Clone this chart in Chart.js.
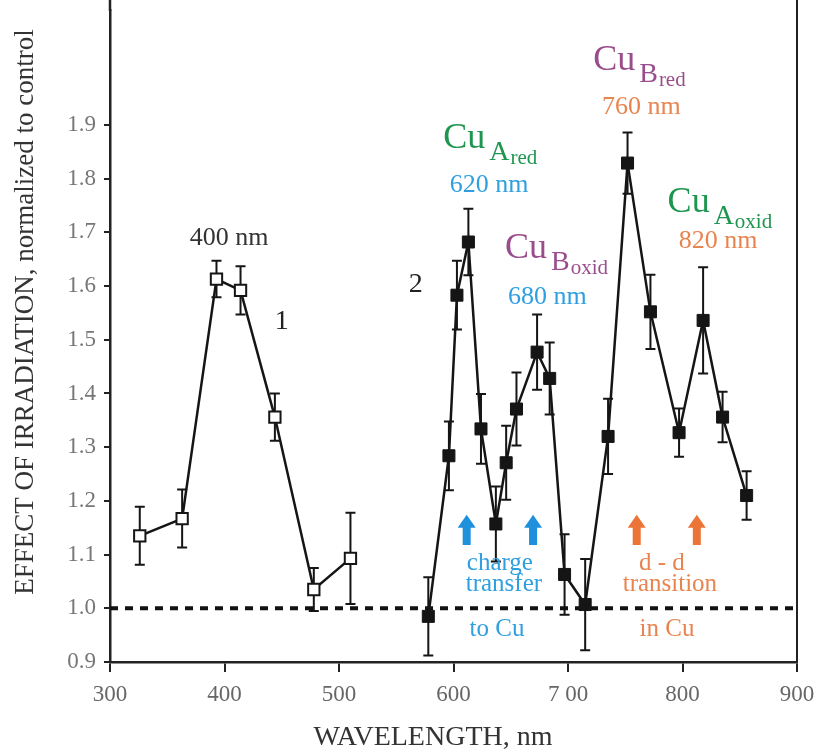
<!DOCTYPE html>
<html lang="en">
<head>
    <meta charset="UTF-8">
    <title>Effect of irradiation vs wavelength</title>
    <script src="https://cdn.jsdelivr.net/npm/chart.js"></script>
    <style>
        body {
            margin: 0;
            background: #fff;
        }
        #wrap {
            width: 817px;
            height: 752px;
        }
    </style>
</head>
<body>
    <div id="wrap">
        <canvas id="irrChart" width="817" height="752"></canvas>
    </div>

    <script>
        // curve 1 (open squares)
        const wavelength1 = [326, 363, 393, 414, 444, 478, 510];
        const effect1 = [1.135, 1.167, 1.613, 1.592, 1.356, 1.035, 1.093];
        const error1 = [0.054, 0.054, 0.034, 0.045, 0.044, 0.040, 0.085];

        // curve 2 (filled squares)
        const wavelength2 = [578, 596, 603, 613, 624, 637, 646, 655, 673, 684, 697, 715, 735, 752, 772, 797, 818, 835, 856];
        const effect2 = [0.985, 1.284, 1.583, 1.682, 1.334, 1.157, 1.271, 1.371, 1.477, 1.428, 1.063, 1.007, 1.320, 1.829, 1.552, 1.327, 1.536, 1.356, 1.210];
        const error2 = [0.073, 0.064, 0.064, 0.062, 0.065, 0.070, 0.069, 0.068, 0.070, 0.067, 0.075, 0.085, 0.070, 0.057, 0.069, 0.045, 0.099, 0.047, 0.045];

        // control level
        const controlLevel = [1.0, 1.0];
        const controlRange = [300, 900];

        const xTicks = [300, 400, 500, 600, 700, 800, 900];
        const yTicks = [0.9, 1.0, 1.1, 1.2, 1.3, 1.4, 1.5, 1.6, 1.7, 1.8, 1.9];

        const FONT = "'Liberation Serif', 'Times New Roman', serif";
        const BLUE = '#2f9fe0';
        const ORANGE = '#e8844f';
        const GREEN = '#1e9650';
        const PURPLE = '#9a4d8c';

        const toPoints = (xs, ys) => xs.map((x, i) => ({ x: x, y: ys[i] }));

        // error bars, drawn behind the markers
        const errorBars = {
            id: 'errorBars',
            beforeDatasetsDraw(chart) {
                const { ctx, scales: { x, y } } = chart;
                const sets = [[wavelength1, effect1, error1], [wavelength2, effect2, error2]];
                ctx.save();
                ctx.strokeStyle = '#151515';
                ctx.lineWidth = 2;
                sets.forEach(([xs, ys, es]) => {
                    xs.forEach((w, i) => {
                        const px = x.getPixelForValue(w);
                        const top = y.getPixelForValue(ys[i] + es[i]);
                        const bot = y.getPixelForValue(ys[i] - es[i]);
                        ctx.beginPath();
                        ctx.moveTo(px, top); ctx.lineTo(px, bot);
                        ctx.moveTo(px - 5, top); ctx.lineTo(px + 5, top);
                        ctx.moveTo(px - 5, bot); ctx.lineTo(px + 5, bot);
                        ctx.stroke();
                    });
                });
                ctx.restore();
            }
        };

        // text labels and arrows
        function drawCu(ctx, x, y, big, small, color) {
            ctx.fillStyle = color;
            ctx.textAlign = 'left';
            ctx.textBaseline = 'alphabetic';
            ctx.font = '36px ' + FONT;
            ctx.fillText('Cu', x, y);
            let cx = x + ctx.measureText('Cu').width + 4;
            ctx.font = '28px ' + FONT;
            ctx.fillText(big, cx, y + 12);
            cx += ctx.measureText(big).width + 1;
            ctx.font = '21px ' + FONT;
            ctx.fillText(small, cx, y + 16);
        }

        function drawArrow(ctx, x, tip, base, color) {
            ctx.fillStyle = color;
            ctx.beginPath();
            ctx.moveTo(x, tip);
            ctx.lineTo(x + 9, tip + 13);
            ctx.lineTo(x + 4, tip + 13);
            ctx.lineTo(x + 4, base);
            ctx.lineTo(x - 4, base);
            ctx.lineTo(x - 4, tip + 13);
            ctx.lineTo(x - 9, tip + 13);
            ctx.closePath();
            ctx.fill();
        }

        const annotations = {
            id: 'annotations',
            afterDatasetsDraw(chart) {
                const { ctx, scales: { x, y } } = chart;
                const px = v => x.getPixelForValue(v);
                const py = v => y.getPixelForValue(v);
                ctx.save();

                const label = (txt, wl, val, size, color) => {
                    ctx.font = size + 'px ' + FONT;
                    ctx.fillStyle = color;
                    ctx.textAlign = 'center';
                    ctx.textBaseline = 'middle';
                    ctx.fillText(txt, px(wl), py(val));
                };

                label('400 nm', 404, 1.690, 26, '#333');
                label('1', 450, 1.533, 28, '#222');
                label('2', 567, 1.602, 28, '#222');

                drawCu(ctx, px(591), py(1.857), 'A', 'red', GREEN);
                label('620 nm', 631, 1.788, 26, BLUE);
                drawCu(ctx, px(645), py(1.652), 'B', 'oxid', PURPLE);
                label('680 nm', 682, 1.580, 26, BLUE);
                drawCu(ctx, px(722), py(2.002), 'B', 'red', PURPLE);
                label('760 nm', 764, 1.934, 26, ORANGE);
                drawCu(ctx, px(787), py(1.738), 'A', 'oxid', GREEN);
                label('820 nm', 831, 1.684, 26, ORANGE);

                drawArrow(ctx, px(611.5), py(1.174), py(1.118), '#1f90dc');
                drawArrow(ctx, px(669.5), py(1.174), py(1.118), '#1f90dc');
                drawArrow(ctx, px(760), py(1.174), py(1.118), '#ec7436');
                drawArrow(ctx, px(812.5), py(1.174), py(1.118), '#ec7436');

                label('charge', 640.5, 1.084, 25, BLUE);
                label('transfer', 644, 1.045, 25, BLUE);
                label('to Cu', 638, 0.960, 25, BLUE);
                label('d - d', 782, 1.084, 25, ORANGE);
                label('transition', 789, 1.045, 25, ORANGE);
                label('in Cu', 786.5, 0.960, 25, ORANGE);

                ctx.restore();
            }
        };

        // axis titles, right frame line, axis lines run up to the top edge
        const frame = {
            id: 'frame',
            afterDraw(chart) {
                const { ctx, chartArea } = chart;
                ctx.save();
                ctx.strokeStyle = '#222';
                ctx.lineWidth = 2;
                ctx.beginPath();
                ctx.moveTo(chartArea.right, 0);
                ctx.lineTo(chartArea.right, chartArea.bottom);
                ctx.stroke();
                ctx.lineWidth = 2.5;
                ctx.beginPath();
                ctx.moveTo(chartArea.left, 0);
                ctx.lineTo(chartArea.left, chartArea.top + 1);
                ctx.stroke();

                ctx.fillStyle = '#333';
                ctx.font = '28px ' + FONT;
                ctx.textAlign = 'center';
                ctx.textBaseline = 'middle';
                ctx.fillText('WAVELENGTH, nm', 433, 738);

                ctx.translate(26, 312);
                ctx.rotate(-Math.PI / 2);
                ctx.font = '27px ' + FONT;
                ctx.fillText('EFFECT OF IRRADIATION, normalized to control', 0, 0);
                ctx.restore();
            }
        };

        const ctx = document.getElementById('irrChart').getContext('2d');
        const irrChart = new Chart(ctx, {
            type: 'scatter',
            data: {
                datasets: [
                    {
                        label: '1',
                        data: toPoints(wavelength1, effect1),
                        showLine: true,
                        borderColor: '#151515',
                        borderWidth: 2.5,
                        pointStyle: 'rect',
                        pointRadius: 8,
                        pointBackgroundColor: '#fff',
                        pointBorderColor: '#151515',
                        pointBorderWidth: 2
                    },
                    {
                        label: '2',
                        data: toPoints(wavelength2, effect2),
                        showLine: true,
                        borderColor: '#151515',
                        borderWidth: 2.5,
                        pointStyle: 'rect',
                        pointRadius: 8.5,
                        pointBackgroundColor: '#151515',
                        pointBorderColor: '#151515',
                        pointBorderWidth: 1
                    },
                    {
                        label: 'control',
                        data: toPoints(controlRange, controlLevel),
                        showLine: true,
                        borderColor: '#111',
                        borderWidth: 4,
                        borderDash: [8, 7],
                        pointRadius: 0
                    }
                ]
            },
            options: {
                responsive: false,
                animation: false,
                layout: {
                    padding: { left: 0, right: 20, top: 0, bottom: 0 }
                },
                plugins: {
                    legend: { display: false },
                    tooltip: { enabled: false }
                },
                scales: {
                    x: {
                        type: 'linear',
                        min: 300,
                        max: 900,
                        afterBuildTicks: scale => {
                            scale.ticks = xTicks.map(v => ({ value: v }));
                        },
                        afterFit: scale => {
                            scale.height = 90;
                            scale.paddingLeft = 0;
                            scale.paddingRight = 0;
                        },
                        grid: {
                            drawOnChartArea: false,
                            drawTicks: true,
                            tickLength: 10,
                            color: '#222',
                            lineWidth: 2
                        },
                        border: { display: true, color: '#222', width: 2.5 },
                        ticks: {
                            padding: 9,
                            color: '#666',
                            font: { family: FONT, size: 23 },
                            maxRotation: 0,
                            callback: v => (v === 700 ? '7 00' : String(v))
                        }
                    },
                    y: {
                        type: 'linear',
                        min: 0.9,
                        max: 2.114,
                        afterBuildTicks: scale => {
                            scale.ticks = yTicks.map(v => ({ value: v }));
                        },
                        afterFit: scale => {
                            scale.width = 110;
                            scale.paddingTop = 0;
                            scale.paddingBottom = 0;
                        },
                        grid: {
                            drawOnChartArea: false,
                            drawTicks: true,
                            tickLength: 6,
                            color: '#222',
                            lineWidth: 2
                        },
                        border: { display: true, color: '#222', width: 2.5 },
                        ticks: {
                            padding: 8,
                            color: '#777',
                            font: { family: FONT, size: 23 },
                            callback: v => v.toFixed(1)
                        }
                    }
                }
            },
            plugins: [errorBars, annotations, frame]
        });
    </script>
</body>
</html>
